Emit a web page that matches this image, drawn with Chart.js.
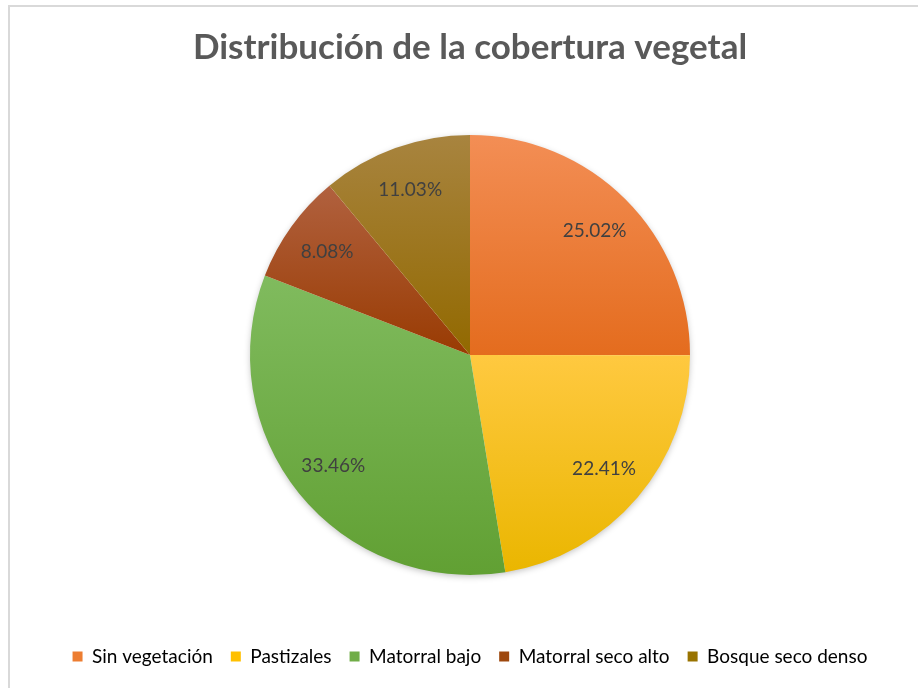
<!DOCTYPE html>
<html>
<head>
<meta charset="utf-8">
<script src="https://cdn.jsdelivr.net/npm/chart.js@4.4.1/dist/chart.umd.min.js"></script>
<style>
  html, body { margin: 0; padding: 0; background: #fff; }
  #wrap { position: relative; width: 918px; height: 688px; overflow: hidden; }
  #frame { position: absolute; left: 8px; top: 5px; width: 940px; height: 720px; border: 2px solid #d9d9d9; box-sizing: border-box; }
  canvas { position: absolute; left: 0; top: 0; }
</style>
</head>
<body>
<div id="wrap">
  <div id="frame"></div>
  <canvas id="myChart1" width="918" height="688"></canvas>
</div>
<script>
  // data
  const categories = ['Sin vegetación', 'Pastizales', 'Matorral bajo', 'Matorral seco alto', 'Bosque seco denso'];
  const shares = [25.02, 22.41, 33.46, 8.08, 11.03];

  // colours (legend swatch, gradient top, gradient bottom)
  const baseColors = ['#ED7D31', '#FFC000', '#70AD47', '#9E480E', '#997300'];
  const topColors = ['#F38E55', '#FFC940', '#80BB5E', '#B1613F', '#A8843F'];
  const bottomColors = ['#E46C1E', '#EAB600', '#61A033', '#993B02', '#926900'];

  const R = 220;

  // vertical gradient per slice, from its own top to its own bottom
  function sliceFill(context) {
    const i = context.dataIndex;
    const chart = context.chart;
    const area = chart.chartArea;
    if (!area || i === undefined) return baseColors[i] || '#ccc';
    const cy = (area.top + area.bottom) / 2;
    const total = shares.reduce((a, b) => a + b, 0);
    let before = 0;
    for (let k = 0; k < i; k++) before += shares[k];
    const a0 = -Math.PI / 2 + 2 * Math.PI * before / total;
    const a1 = a0 + 2 * Math.PI * shares[i] / total;
    const ys = [cy, cy + R * Math.sin(a0), cy + R * Math.sin(a1)];
    if (a0 <= Math.PI / 2 && a1 >= Math.PI / 2) ys.push(cy + R);
    if (a0 <= -Math.PI / 2 + 1e-6 || a1 >= 1.5 * Math.PI - 1e-6) ys.push(cy - R);
    const g = chart.ctx.createLinearGradient(0, Math.min(...ys), 0, Math.max(...ys));
    g.addColorStop(0, topColors[i]);
    g.addColorStop(1, bottomColors[i]);
    return g;
  }

  // soft shadow under the pie
  const pieShadow = {
    id: 'pieShadow',
    beforeDatasetsDraw(chart) {
      const arc = chart.getDatasetMeta(0).data[0];
      if (!arc) return;
      const ctx = chart.ctx;
      ctx.save();
      ctx.shadowColor = 'rgba(0,0,0,0.28)';
      ctx.shadowBlur = 7;
      ctx.shadowOffsetY = 2;
      ctx.beginPath();
      ctx.arc(arc.x, arc.y, arc.outerRadius - 1, 0, 2 * Math.PI);
      ctx.fillStyle = '#fff';
      ctx.fill();
      ctx.restore();
    }
  };

  // percentage labels inside the slices
  const sliceLabels = {
    id: 'sliceLabels',
    afterDatasetsDraw(chart) {
      const ctx = chart.ctx;
      const meta = chart.getDatasetMeta(0);
      ctx.save();
      ctx.font = '19px Lato';
      ctx.fillStyle = '#404040';
      ctx.textAlign = 'center';
      ctx.textBaseline = 'middle';
      meta.data.forEach((arc, i) => {
        const p = arc.getProps(['x', 'y', 'startAngle', 'endAngle', 'outerRadius']);
        const mid = (p.startAngle + p.endAngle) / 2;
        const r = p.outerRadius * 0.8;
        ctx.fillText(shares[i].toFixed(2) + '%', p.x + Math.cos(mid) * r, p.y + Math.sin(mid) * r);
      });
      ctx.restore();
    }
  };

  const config1 = {
    type: 'pie',
    data: {
      labels: categories,
      datasets: [{
        data: shares,
        backgroundColor: sliceFill,
        borderWidth: 0,
        radius: R
      }]
    },
    options: {
      responsive: false,
      animation: false,
      layout: { padding: { left: 22, right: 0, top: 0, bottom: 12 } },
      plugins: {
        title: {
          display: true,
          text: 'Distribución de la cobertura vegetal',
          color: '#595959',
          font: { family: 'Lato', size: 35, weight: 'bold' },
          padding: { top: 27, bottom: 12 }
        },
        legend: {
          position: 'bottom',
          labels: {
            color: '#595959',
            font: { family: 'Lato', size: 19 },
            boxWidth: 10,
            boxHeight: 10,
            padding: 18,
            generateLabels: () => categories.map((c, i) => ({
              text: c,
              fillStyle: baseColors[i],
              strokeStyle: baseColors[i],
              lineWidth: 0,
              index: i
            }))
          }
        },
        tooltip: { enabled: false }
      }
    },
    plugins: [pieShadow, sliceLabels]
  };

  const ctx = document.getElementById('myChart1').getContext('2d');
  const myChart1 = new Chart(ctx, config1);
</script>
</body>
</html>
